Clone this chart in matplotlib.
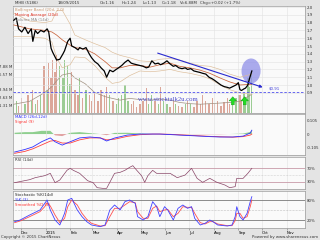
import numpy as np
import matplotlib
matplotlib.use("Agg")
import matplotlib.pyplot as plt
from matplotlib.patches import Ellipse

W, H = 320, 240

# ── Price data (days since 2014-12-01) ────────────────────────────────────────
day = [-9, -6, -3, 1, 5, 9, 13, 15, 18, 21, 25, 29, 33, 35, 38, 40, 43, 45, 49, 53,
       55, 59, 62, 64, 68, 72, 74, 78, 82, 86, 89, 93, 97, 101, 105, 108, 112, 116, 120, 123,
       127, 131, 135, 139, 142, 146, 150, 154, 158, 161, 165, 169, 173, 176, 180, 184, 188, 192, 195, 199,
       203, 207, 210, 214, 218, 222, 226, 229, 233, 237, 241, 244, 248, 252, 256, 260, 263, 267, 271, 274,
       276, 278, 281, 283, 286, 288, 291]
close = [1.83, 1.86, 1.72, 1.68, 1.74, 1.66, 1.72, 1.56, 1.70, 1.66, 1.70, 1.68, 1.72, 1.68, 1.47, 1.42, 1.36, 1.32, 1.33, 1.40,
         1.44, 1.56, 1.60, 1.50, 1.48, 1.45, 1.48, 1.46, 1.48, 1.40, 1.35, 1.30, 1.27, 1.22, 1.18, 1.10, 1.19, 1.17, 1.20, 1.22,
         1.25, 1.29, 1.32, 1.28, 1.27, 1.26, 1.25, 1.24, 1.22, 1.23, 1.31, 1.27, 1.28, 1.26, 1.28, 1.31, 1.27, 1.24, 1.25, 1.22,
         1.21, 1.22, 1.20, 1.21, 1.18, 1.17, 1.16, 1.15, 1.14, 1.10, 1.08, 1.06, 1.03, 1.00, 0.98, 0.97, 0.96, 0.98, 1.00, 1.03,
         0.94, 0.93, 0.95, 0.96, 1.00, 1.08, 1.18]
volume = [1.5, 2.0, 1.2, 2.5, 1.5, 3.0, 2.0, 4.0, 1.5, 2.2,
          3.0, 8.0, 4.0, 8.5,
          6.0, 9.0, 7.0, 10.0, 8.0,
          6.0, 9.0, 8.0, 5.0, 7.0,
          4.0, 3.0, 6.0, 2.5, 4.0, 3.0,
          2.0, 3.5, 2.0, 4.0, 3.0, 4.5, 3.0,
          2.0, 1.5, 2.5, 3.0, 4.8, 2.0, 1.5, 2.0, 1.0, 1.5, 2.0, 4.3, 1.5,
          3.0, 2.0, 1.5, 4.5, 2.0, 1.5, 1.0, 2.0, 1.5, 1.2,
          1.0, 1.5, 2.0, 1.5, 1.0, 2.0, 1.5, 3.0, 2.0, 1.5,
          2.5, 1.5, 2.0, 1.2, 1.8, 2.5, 1.5, 2.0, 2.5, 3.0,
          3.0, 2.0, 3.5, 2.5, 6.0, 4.5, 6.88]

# ── Bollinger band / MA / volume MA ───────────────────────────────────────────
band_day = [-9, 11, 30, 39, 45, 52, 62, 68, 81, 93, 106, 115, 125, 137, 150, 163, 175, 188, 200, 213,
            226, 238, 251, 263, 276, 291]
bb_upper = [1.92, 1.82, 1.80, 1.82, 1.95, 1.96, 1.78, 1.64, 1.58, 1.53, 1.48, 1.42, 1.38, 1.35, 1.31, 1.30, 1.33, 1.34, 1.32, 1.28,
            1.25, 1.24, 1.20, 1.14, 1.10, 1.14]
bb_lower = [1.62, 1.62, 1.60, 1.55, 1.35, 1.22, 1.26, 1.36, 1.35, 1.25, 1.10, 1.02, 1.04, 1.12, 1.18, 1.17, 1.18, 1.20, 1.17, 1.15,
            1.12, 1.08, 1.00, 0.94, 0.90, 0.88]
ma20 = [1.77, 1.72, 1.70, 1.68, 1.64, 1.58, 1.51, 1.48, 1.46, 1.40, 1.30, 1.22, 1.22, 1.25, 1.25, 1.23, 1.26, 1.28, 1.24, 1.22,
        1.19, 1.15, 1.09, 1.04, 1.00, 1.01]
vol_ma = [1.5, 2.0, 3.5, 4.5, 5.5, 6.5, 6.8, 6.0, 5.0, 3.5, 2.8, 2.5, 2.2, 2.5, 2.3, 2.2, 2.4, 2.2, 1.8, 1.6,
          1.5, 1.6, 1.7, 1.8, 2.0, 3.2]

# ── MACD ──────────────────────────────────────────────────────────────────────
macd_day = [-8, 5, 15, 26, 37, 43, 52, 62, 74, 87, 100, 108, 118, 134, 150, 166, 175, 188, 200, 213,
            226, 238, 251, 267, 280, 289, 291]
macd = [-0.14, -0.12, -0.10, -0.06, -0.03, -0.06, -0.086, -0.06, -0.03, -0.023, -0.03, -0.054, -0.031, -0.008, 0.0, 0.0,
        0.0, -0.004, -0.008, -0.012, -0.016, -0.02, -0.023, -0.023, -0.016, 0.008, 0.03]
signal = [-0.15, -0.135, -0.115, -0.085, -0.055, -0.05, -0.07, -0.07, -0.045, -0.03, -0.03, -0.045, -0.04, -0.018, -0.005, 0.0,
          0.0, -0.002, -0.006, -0.01, -0.014, -0.018, -0.021, -0.024, -0.02, -0.008, 0.0]

# ── RSI ───────────────────────────────────────────────────────────────────────
rsi_day = [-8, 11, 18, 30, 37, 43, 49, 58, 62, 66, 74, 84, 91, 96, 103, 108, 112, 118, 125, 131,
           137, 141, 146, 152, 156, 160, 166, 171, 175, 188, 197, 207, 215, 222, 229, 238, 247, 257, 263, 270,
           272, 280, 286, 291]
rsi = [27, 36, 42, 48, 55, 27, 35, 64, 70, 64, 55, 33, 27, 12, 10, 10, 28, 55, 58, 64,
       73, 78, 64, 48, 28, 48, 64, 55, 55, 55, 42, 50, 70, 40, 28, 40, 28, 20, 12, 15,
       40, 40, 55, 70]

# ── Stochastic ────────────────────────────────────────────────────────────────
sto_day = [-8, -1, 11, 24, 30, 33, 37, 43, 49, 55, 59, 64, 71, 77, 83, 89, 100, 106, 112, 118,
           125, 131, 137, 144, 147, 154, 160, 166, 171, 175, 181, 185, 192, 198, 204, 210, 215, 219, 226, 232,
           238, 242, 248, 260, 266, 270, 272, 276, 280, 285, 289, 291]
pct_k = [15, 20, 35, 50, 70, 80, 50, 20, 5, 40, 80, 85, 50, 30, 15, 5, 0, 5, 50, 65,
         50, 75, 80, 70, 30, 20, 30, 75, 60, 30, 60, 50, 20, 55, 65, 55, 60, 25, 5, 10,
         20, 15, 5, 2, 5, 30, 60, 30, 20, 40, 75, 90]
pct_d = [12, 17, 30, 45, 60, 72, 62, 35, 12, 25, 60, 80, 65, 40, 22, 10, 2, 3, 30, 55,
         55, 65, 75, 72, 45, 25, 25, 55, 62, 45, 50, 52, 30, 40, 60, 58, 58, 40, 12, 8,
         15, 15, 8, 3, 3, 18, 40, 40, 25, 30, 60, 80]

month_labels = ["Dec", "2015", "Feb", "Mar", "Apr", "May", "Jun", "Jul", "Aug", "Sep", "Oct", "Nov"]
price_ticks = [0.9, 1.0, 1.1, 1.2, 1.3, 1.4, 1.5, 1.6, 1.7, 1.8, 1.9, 2.0]
vol_ticks = [1.31, 2.63, 3.94, 6.57, 7.88]

months = np.arange("2014-12", "2015-12", dtype="datetime64[M]")
month_pos = (months.astype("datetime64[D]") - np.datetime64("2014-12-01")).astype(int)

FS = 2.8
XMIN, XMAX = -10, 358


def box(x0, y0, x1, y1):
    return [x0 / W, 1 - y1 / H, (x1 - x0) / W, (y1 - y0) / H]


def style(ax):
    ax.set_facecolor("#fafafa")
    ax.set_xlim(XMIN, XMAX)
    for s in ax.spines.values():
        s.set_color("#9a9a9a")
        s.set_linewidth(0.5)
    ax.set_xticks(month_pos)
    ax.tick_params(axis="x", length=0, labelbottom=False)
    ax.grid(axis="x", color="#e2e2e2", lw=0.4)
    ax.yaxis.tick_right()
    ax.tick_params(axis="y", length=0, labelsize=FS, pad=1, colors="#333333")


fig = plt.figure(figsize=(W / 100, H / 100), dpi=100, facecolor="#e4e4e4")

# ── Main panel: volume (behind) + price ──────────────────────────────────────
ax_v = fig.add_axes(box(13, 6, 305, 113))
style(ax_v)
ax_v.yaxis.tick_left()
ax_v.set_ylim(0, 18.3)
ax_v.set_yticks(vol_ticks)
ax_v.set_yticklabels([f"{v:.2f} M" for v in vol_ticks])
ax_v.tick_params(axis="y", length=0, labelsize=FS, pad=0.5)
up = [True] + [close[i] >= close[i - 1] for i in range(1, len(close))]
vcol = ["#9ccc94" if u else "#dba79a" for u in up]
ax_v.bar(day, volume, width=1.6, color=vcol, lw=0)
ax_v.plot(band_day, vol_ma, color="#a09080", lw=0.5)

ax_p = ax_v.twinx()
ax_p.set_xlim(XMIN, XMAX)
ax_p.set_ylim(0.641, 2.013)
ax_p.set_yticks(price_ticks)
ax_p.set_yticklabels([f"{p:.1f}" for p in price_ticks])
ax_p.tick_params(axis="y", length=0, labelsize=FS, pad=1, colors="#333333")
for s in ax_p.spines.values():
    s.set_visible(False)
ax_p.grid(axis="y", color="#e2e2e2", lw=0.4)
ax_p.set_axisbelow(True)

ax_p.plot(band_day, bb_upper, color="#dcbc98", lw=0.45)
ax_p.plot(band_day, bb_lower, color="#dcbc98", lw=0.45)
ax_p.plot(band_day, ma20, color="#c8643c", lw=0.55)
ax_p.plot(day, close, color="black", lw=0.9)

# annotations
ax_p.axhline(0.91, color="#5050ee", lw=0.6, ls=(0, (3, 2)))
ax_p.annotate("", xy=(308, 0.96), xytext=(169, 1.42),
              arrowprops=dict(arrowstyle="-|>", color="#2a2ad0", lw=0.8, mutation_scale=4))
ax_p.text(312, 0.96, "$0.91", fontsize=FS, color="#3a3ad8", va="center")
ax_p.add_patch(Ellipse((290, 1.18), 24, 0.32, color="#8f8fe8", alpha=0.75, lw=0))
for gx in [267, 282]:
    ax_p.annotate("", xy=(gx, 0.885), xytext=(gx, 0.71),
                  arrowprops=dict(arrowstyle="simple,head_width=0.9,head_length=0.5,tail_width=0.35",
                                  fc="#22dd22", ec="#119911", lw=0.3, mutation_scale=6))
ax_p.text(185, 0.81, "www.stocktalk2u.com", fontsize=4.8, color="#4a4acc",
          family="Liberation Serif", ha="center", va="center")

# ── MACD ──────────────────────────────────────────────────────────────────────
ax_m = fig.add_axes(box(13, 114, 305, 155))
style(ax_m)
ax_m.set_ylim(-0.163, 0.156)
ax_m.set_yticks([0.105, 0, -0.105])
ax_m.set_yticklabels(["0.105", "0", "-0.105"])
hist = np.array(macd) - np.array(signal)
ax_m.fill_between(macd_day, hist, 0, where=hist >= 0, color="#8fcf8f", lw=0, interpolate=True)
ax_m.fill_between(macd_day, hist, 0, where=hist < 0, color="#e0a0a0", lw=0, interpolate=True)
ax_m.plot(macd_day, signal, color="#ff4040", lw=0.6)
ax_m.plot(macd_day, macd, color="#3030ff", lw=0.6)

# ── RSI ───────────────────────────────────────────────────────────────────────
ax_r = fig.add_axes(box(13, 157, 305, 189))
style(ax_r)
ax_r.set_ylim(8, 104)
ax_r.set_yticks([70, 30])
ax_r.set_yticklabels(["70%", "30%"])
ax_r.axhline(70, color="#c89aa8", lw=0.6)
ax_r.axhline(30, color="#c89aa8", lw=0.6)
ax_r.axhline(50, color="#b0b0b0", lw=0.4, ls=":")
ax_r.plot(rsi_day, rsi, color="#884466", lw=0.5)

# ── Stochastic ────────────────────────────────────────────────────────────────
ax_s = fig.add_axes(box(13, 191, 305, 228))
style(ax_s)
ax_s.set_ylim(-4, 107)
ax_s.set_yticks([80, 20])
ax_s.set_yticklabels(["80%", "20%"])
ax_s.axhline(80, color="#7a7a7a", lw=0.6)
ax_s.axhline(20, color="#7a7a7a", lw=0.6)
ax_s.axhline(50, color="#909090", lw=0.4, ls=":")
ax_s.plot(sto_day, pct_d, color="#ff5050", lw=0.6)
ax_s.plot(sto_day, pct_k, color="#4040ff", lw=0.6)
ax_s.tick_params(axis="x", labelbottom=True, length=1.5, width=0.4, color="#777777",
                 labelsize=FS, pad=0.5, direction="out")
ax_s.set_xticklabels(month_labels, ha="left")

# ── Texts ─────────────────────────────────────────────────────────────────────
def ftext(x, y, s, color="#333333", **kw):
    fig.text(x / W, 1 - y / H, s, fontsize=FS, color=color, va="center", **kw)

ftext(15, 3, "MHB (5186)")
ftext(58, 3, "18/09/2015")
ftext(100, 3, "O=1.16")
ftext(122, 3, "H=1.24")
ftext(143, 3, "L=1.13")
ftext(162, 3, "C=1.18")
ftext(180, 3, "V=6.88M")
ftext(200, 3, "Chg=+0.02 (+1.7%)")
ftext(15, 10, "Bollinger Band (20d, 2.0)", color="#c89870")
ftext(15, 15, "Moving Average (20d)", color="#e03020")
ftext(15, 20, "Volume MA (14d)", color="#8a8a8a")
ftext(15, 117, "MACD (26d,12d)", color="#3030ff")
ftext(15, 122, "Signal (9)", color="#ff3030")
ftext(15, 160, "RSI (14d)")
ftext(15, 195, "Stochastic %K(14d)", color="#222222")
ftext(15, 200, "%K (3)", color="#3030ff")
ftext(15, 205, "Smoothed %D (3)", color="#ff3030")
ftext(1, 237, "Copyright \u00a9 2015 ChartNexus")
ftext(252, 237, "Powered by www.sharenexus.com")

fig.savefig("out.png", dpi=100, facecolor=fig.get_facecolor())
